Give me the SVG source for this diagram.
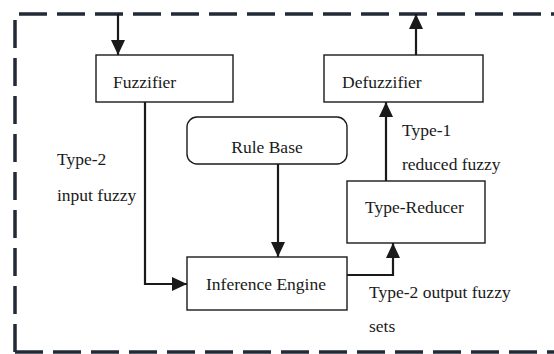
<svg xmlns="http://www.w3.org/2000/svg" width="554" height="354" viewBox="0 0 554 354">
  <style>
    .frame { fill: none; stroke: #212a36; stroke-width: 3.5; stroke-dasharray: 28 10; }
    .box { fill: #ffffff; stroke: #1a1a1a; stroke-width: 1.4; }
    .wire { fill: none; stroke: #1a1a1a; stroke-width: 2.2; marker-end: url(#head); }
    .t { font-size: 17.5px; fill: #1a1a1a; }
  </style>
  <defs>
    <marker id="head" markerUnits="userSpaceOnUse" markerWidth="16" markerHeight="14" refX="15" refY="7" orient="auto">
      <path d="M0,0 L15,7 L0,14 Z" fill="#1a1a1a"/>
    </marker>
  </defs>

  <rect x="0" y="0" width="554" height="354" fill="#ffffff"/>

  <!-- system boundary -->
  <path class="frame" d="M15,352 V14 H560 M15,352 H560"/>

  <g font-family="'Liberation Serif', 'DejaVu Serif', serif">
    <g id="fuzzifier">
      <rect class="box" x="96" y="55" width="137" height="47"/>
      <text class="t" x="113" y="88">Fuzzifier</text>
    </g>

    <g id="defuzzifier">
      <rect class="box" x="324" y="55" width="159" height="47"/>
      <text class="t" x="342" y="88">Defuzzifier</text>
    </g>

    <g id="rule-base">
      <rect class="box" x="187" y="117" width="160" height="47" rx="10" ry="10"/>
      <text class="t" x="267" y="153" text-anchor="middle">Rule Base</text>
    </g>

    <g id="type-reducer">
      <rect class="box" x="347" y="181" width="138" height="62"/>
      <text class="t" x="365" y="213">Type-Reducer</text>
    </g>

    <g id="inference-engine">
      <rect class="box" x="187" y="257" width="160" height="53"/>
      <text class="t" x="206" y="290">Inference Engine</text>
    </g>

    <g id="connectors">
      <path class="wire" d="M118,14 V55"/>
      <path class="wire" d="M145,102 V284 H187"/>
      <path class="wire" d="M278,164 V257"/>
      <path class="wire" d="M347,275 H393 V243"/>
      <path class="wire" d="M386,181 V102"/>
      <path class="wire" d="M416,55 V14"/>
    </g>

    <g id="labels">
      <text class="t" x="57" y="165">Type-2</text>
      <text class="t" x="57" y="201">input fuzzy</text>
      <text class="t" x="402" y="136">Type-1</text>
      <text class="t" x="402" y="170">reduced fuzzy</text>
      <text class="t" x="369" y="298">Type-2 output fuzzy</text>
      <text class="t" x="369" y="332">sets</text>
    </g>
  </g>
</svg>
